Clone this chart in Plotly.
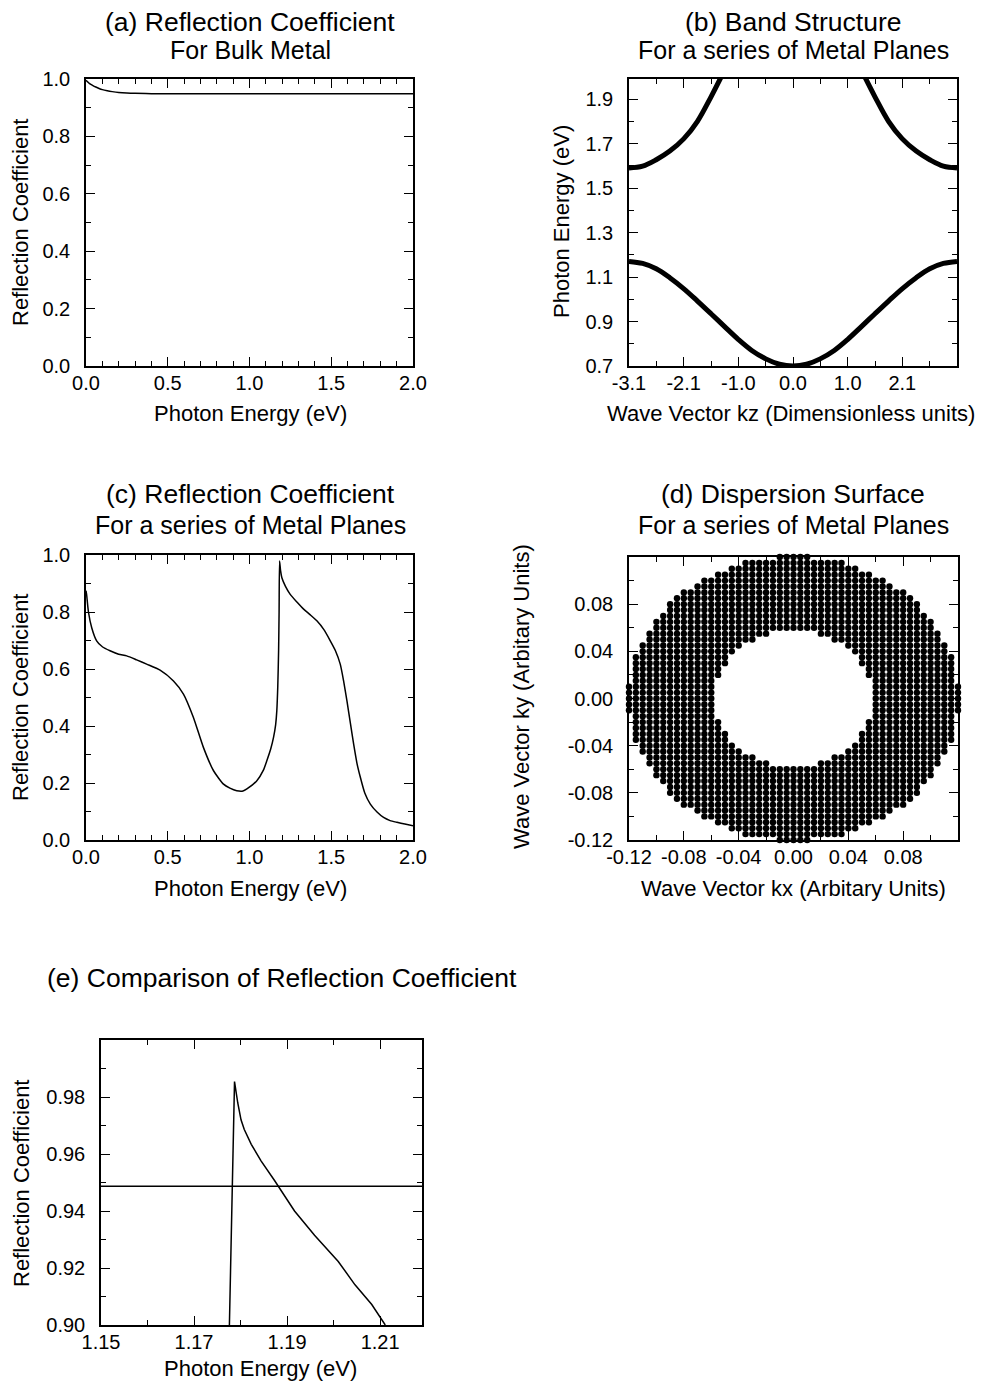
import math
import plotly.graph_objects as go

# page is 987x1389 with the browser's default 8px body margin around the figure
PAGE_W, PAGE_H, BODY = 987, 1389, 8
W, H = PAGE_W - 2 * BODY, PAGE_H - 2 * BODY

# ---------------- data ----------------
# (a) bulk metal reflection coefficient
A_E = [0.0, 0.01, 0.02, 0.04, 0.06, 0.08, 0.10, 0.13, 0.16, 0.20, 0.25, 0.30, 0.40, 0.50, 0.75, 1.00, 1.25, 1.50, 1.75, 2.00]
A_R = [0.996, 0.990, 0.985, 0.978, 0.972, 0.967, 0.963, 0.959, 0.956, 0.953, 0.951, 0.950, 0.949, 0.949, 0.949, 0.949, 0.949, 0.949, 0.949, 0.949]

# (b) band structure
B_KZ = [-3.1416, -2.88, -2.62, -2.36, -2.09, -1.83, -1.57, -1.31, -1.05, -0.79, -0.52, -0.26, 0.0,
        0.26, 0.52, 0.79, 1.05, 1.31, 1.57, 1.83, 2.09, 2.36, 2.62, 2.88, 3.1416]
B_LOWER = [1.170, 1.161, 1.137, 1.097, 1.047, 0.992, 0.935, 0.877, 0.820, 0.770, 0.732, 0.708, 0.700,
           0.708, 0.732, 0.770, 0.820, 0.877, 0.935, 0.992, 1.047, 1.097, 1.137, 1.161, 1.170]
B_UPPER = [1.590, 1.598, 1.627, 1.666, 1.722, 1.800, 1.910, 2.030, 2.150, 2.250, 2.320, 2.360, 2.375,
           2.360, 2.320, 2.250, 2.150, 2.030, 1.910, 1.800, 1.722, 1.666, 1.627, 1.598, 1.590]
B_XTICKS = [-3.1416, -2.0944, -1.0472, 0.0, 1.0472, 2.0944, 3.1416]
B_XTICKTEXT = ["-3.1", "-2.1", "-1.0", "0.0", "1.0", "2.1", ""]

# (c) reflection coefficient for a series of metal planes
C_E = [0.000, 0.004, 0.015, 0.035, 0.065, 0.10, 0.147, 0.20, 0.249, 0.31, 0.371, 0.453, 0.535, 0.596, 0.657,
       0.718, 0.780, 0.841, 0.88, 0.922, 0.96, 0.984, 1.045, 1.085, 1.106, 1.130, 1.147, 1.160, 1.167, 1.173,
       1.178, 1.181, 1.184, 1.190, 1.198, 1.220, 1.249, 1.290, 1.331, 1.372, 1.412, 1.455, 1.494, 1.525, 1.555,
       1.575, 1.596, 1.617, 1.637, 1.657, 1.678, 1.705, 1.739, 1.780, 1.820, 1.860, 1.902, 1.950, 2.000]
C_R = [0.875, 0.860, 0.800, 0.745, 0.699, 0.678, 0.664, 0.652, 0.646, 0.632, 0.617, 0.596, 0.558, 0.512, 0.430,
       0.325, 0.243, 0.196, 0.182, 0.173, 0.172, 0.179, 0.208, 0.245, 0.278, 0.320, 0.360, 0.405, 0.453, 0.540,
       0.664, 0.800, 0.979, 0.945, 0.920, 0.890, 0.862, 0.835, 0.810, 0.790, 0.769, 0.738, 0.699, 0.665, 0.617,
       0.560, 0.488, 0.410, 0.336, 0.270, 0.220, 0.165, 0.126, 0.098, 0.079, 0.068, 0.062, 0.056, 0.050]

# (d) dispersion surface: grid of (kx, ky) states between two radii
D_KX_GRID = [round(-0.12 + 0.005 * i, 4) for i in range(49)]
D_KY_GRID = [round(-0.12 + 0.005 * i, 4) for i in range(49)]
D_R_OUTER = 0.1205
D_R_INNER = 0.058
D_TICKS = [-0.12, -0.08, -0.04, 0.0, 0.04, 0.08, 0.12]
D_TICKTEXT = ["-0.12", "-0.08", "-0.04", "0.00", "0.04", "0.08", ""]

# (e) comparison near 1.18 eV
E_E = [1.1776, 1.1787, 1.1794, 1.1801, 1.1808, 1.1823, 1.1844, 1.1873, 1.1916, 1.1959, 1.2010, 1.2046, 1.2082, 1.2111]
E_R = [0.900, 0.9854, 0.9779, 0.9720, 0.9686, 0.9634, 0.9576, 0.9507, 0.9400, 0.9315, 0.9223, 0.9141, 0.9072, 0.900]
E_BULK_E = [1.15, 1.22]
E_BULK_R = [0.9487, 0.9487]
E_YTICKS = [0.90, 0.92, 0.94, 0.96, 0.98, 1.00]
E_YTICKTEXT = ["0.90", "0.92", "0.94", "0.96", "0.98", ""]

# ---------------- helpers ----------------
def px(x):
    return (x - BODY) / W

def py(y):
    return 1 - (y - BODY) / H

FONT = "Liberation Sans, Arial, Helvetica, sans-serif"
TICKFONT = dict(family=FONT, size=20, color="black")

def axis(domain, rng, is_x, **kw):
    d = dict(domain=domain, range=rng, showgrid=False, zeroline=False, automargin=False,
             showline=True, linecolor="black", linewidth=1.5, mirror="allticks",
             ticks="inside", ticklen=9, tickwidth=1.2, tickcolor="black",
             tickfont=TICKFONT, ticklabelstandoff=(-2 if is_x else 10))
    d.update(kw)
    return d

def minor(dt, tick0=0):
    return dict(ticks="inside", ticklen=5, tickwidth=1.0, tickcolor="black", dtick=dt, tick0=tick0, showgrid=False)

fig = go.Figure()

# panel (a)
fig.add_trace(go.Scatter(x=A_E, y=A_R, mode="lines", line=dict(color="black", width=1.5, shape="spline"),
                         xaxis="x", yaxis="y", showlegend=False))
# panel (b)
fig.add_trace(go.Scatter(x=B_KZ, y=B_LOWER, mode="lines", line=dict(color="black", width=5, shape="spline"),
                         xaxis="x2", yaxis="y2", showlegend=False))
fig.add_trace(go.Scatter(x=B_KZ, y=B_UPPER, mode="lines", line=dict(color="black", width=5, shape="spline"),
                         xaxis="x2", yaxis="y2", showlegend=False))
# panel (c)
fig.add_trace(go.Scatter(x=C_E, y=C_R, mode="lines", line=dict(color="black", width=1.5, shape="spline", smoothing=0.6),
                         xaxis="x3", yaxis="y3", showlegend=False))
# panel (d)
dx, dy = [], []
for ky in D_KY_GRID:
    for kx in D_KX_GRID:
        r = math.hypot(kx, ky)
        if D_R_INNER <= r <= D_R_OUTER:
            dx.append(kx)
            dy.append(ky)
fig.add_trace(go.Scatter(x=dx, y=dy, mode="markers", marker=dict(color="black", size=6.4, line=dict(width=0)),
                         xaxis="x4", yaxis="y4", showlegend=False, cliponaxis=False))
# panel (e)
fig.add_trace(go.Scatter(x=E_E, y=E_R, mode="lines", line=dict(color="black", width=1.5),
                         xaxis="x5", yaxis="y5", showlegend=False))
fig.add_trace(go.Scatter(x=E_BULK_E, y=E_BULK_R, mode="lines", line=dict(color="black", width=1.5),
                         xaxis="x5", yaxis="y5", showlegend=False))

layout = dict(
    width=W, height=H, margin=dict(l=0, r=0, t=0, b=0, autoexpand=False),
    paper_bgcolor="white", plot_bgcolor="white", showlegend=False,
    font=dict(family=FONT, color="black"),
)

# (a)
layout["xaxis"] = axis([px(86), px(413)], [0, 2.0], True, anchor="y", dtick=0.5, tick0=0, tickformat=".1f", minor=minor(0.1))
layout["yaxis"] = axis([py(366), py(79)], [0, 1.0], False, anchor="x", dtick=0.2, tick0=0, tickformat=".1f", minor=minor(0.1))
# (b)
layout["xaxis2"] = axis([px(629), px(957)], [-3.1416, 3.1416], True, anchor="y2", tickmode="array",
                        tickvals=B_XTICKS, ticktext=B_XTICKTEXT, minor=minor(0.5236, -3.1416))
layout["yaxis2"] = axis([py(366), py(79)], [0.7, 1.99], False, anchor="x2", dtick=0.2, tick0=0.7, tickformat=".1f",
                        minor=minor(0.1, 0.7))
# (c)
layout["xaxis3"] = axis([px(86), px(413)], [0, 2.0], True, anchor="y3", dtick=0.5, tick0=0, tickformat=".1f", minor=minor(0.1))
layout["yaxis3"] = axis([py(840), py(555)], [0, 1.0], False, anchor="x3", dtick=0.2, tick0=0, tickformat=".1f", minor=minor(0.1))
# (d)
layout["xaxis4"] = axis([px(629), px(958)], [-0.12, 0.12], True, anchor="y4", tickmode="array",
                        tickvals=D_TICKS, ticktext=D_TICKTEXT, minor=minor(0.02, -0.12))
layout["yaxis4"] = axis([py(840), py(557)], [-0.12, 0.12], False, anchor="x4", tickmode="array",
                        tickvals=D_TICKS, ticktext=D_TICKTEXT, minor=minor(0.02, -0.12))
# (e)
layout["xaxis5"] = axis([px(101), px(422)], [1.15, 1.219], True, anchor="y5", dtick=0.02, tick0=1.15, tickformat=".2f",
                        minor=minor(0.01, 1.15))
layout["yaxis5"] = axis([py(1325), py(1040)], [0.90, 1.00], False, anchor="x5", tickmode="array",
                        tickvals=E_YTICKS, ticktext=E_YTICKTEXT, minor=minor(0.01, 0.90))

ann = []
def text(x, y, s, size, angle=0):
    ann.append(dict(x=px(x), y=py(y), xref="paper", yref="paper", text=s, showarrow=False,
                    font=dict(family=FONT, size=size, color="black"), textangle=angle,
                    xanchor="center", yanchor="middle"))

TS, SS, AS = 26.5, 25, 22
text(250, 22, "(a) Reflection Coefficient", TS)
text(250, 50, "For Bulk Metal", SS)
text(793, 22, "(b) Band Structure", TS)
text(793, 50, "For a series of Metal Planes", SS)
text(250, 494, "(c) Reflection Coefficient", TS)
text(250, 525, "For a series of Metal Planes", SS)
text(793, 494, "(d) Dispersion Surface", TS)
text(793, 525, "For a series of Metal Planes", SS)
text(282, 978, "(e) Comparison of Reflection Coefficient", TS)

text(250, 413, "Photon Energy (eV)", AS)
text(21, 222, "Reflection Coefficient", AS, -90)
text(791, 413, "Wave Vector kz (Dimensionless units)", AS)
text(562, 222, "Photon Energy (eV)", AS, -90)
text(250, 888, "Photon Energy (eV)", AS)
text(21, 697, "Reflection Coefficient", AS, -90)
text(793, 888, "Wave Vector kx (Arbitary Units)", AS)
text(522, 697, "Wave Vector ky (Arbitary Units)", AS, -90)
text(260, 1368, "Photon Energy (eV)", AS)
text(21, 1183, "Reflection Coefficient", AS, -90)

layout["annotations"] = ann
fig.update_layout(**layout)
fig.write_html("out.html")
